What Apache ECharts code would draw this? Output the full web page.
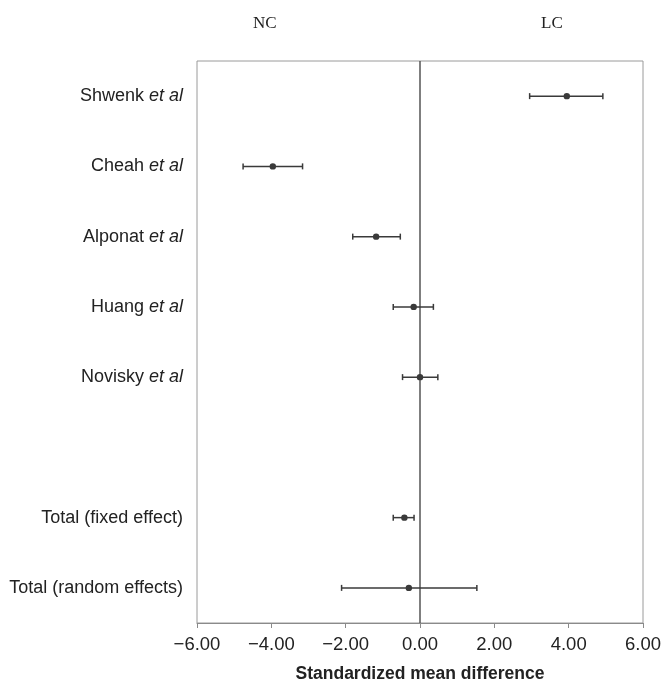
<!DOCTYPE html>
<html><head><meta charset="utf-8">
<script src="https://cdn.jsdelivr.net/npm/echarts@6/dist/echarts.min.js"></script>
<style>html,body{margin:0;padding:0;background:#fff}#c{width:662px;height:683px}</style>
</head><body><div id="c"></div>
<script>
const studies = ['Shwenk', 'Cheah', 'Alponat', 'Huang', 'Novisky', ' ', 'Total (fixed effect)', 'Total (random effects)'];
const etAl = [true, true, true, true, true, false, false, false];
const smd = [3.95, -3.96, -1.18, -0.17, 0.0, null, -0.42, -0.30];
const ciLow = [2.95, -4.76, -1.81, -0.72, -0.47, null, -0.72, -2.11];
const ciHigh = [4.92, -3.16, -0.53, 0.36, 0.48, null, -0.16, 1.53];
const xTicks = [-6, -4, -2, 0, 2, 4, 6];
const sideLabels = ['NC', 'LC'];
const refLine = 0;

const sans = "'Liberation Sans Narrow','Arial Narrow','Liberation Sans',Arial,sans-serif";
const chart = echarts.init(document.getElementById('c'), null, {renderer: 'canvas'});

const data = [];
studies.forEach((s, i) => { if (smd[i] != null) data.push([ciLow[i], ciHigh[i], smd[i], s]); });

chart.setOption({
  animation: false,
  grid: {left: 197, right: 19, top: 61, bottom: 60, show: true, borderColor: '#9a9a9a', borderWidth: 1, outerBoundsMode: 'none', containLabel: false},
  graphic: [
    {type: 'text', left: 253, top: 15, style: {text: sideLabels[0], font: "17px 'Liberation Serif','Times New Roman',serif", fill: '#222'}},
    {type: 'text', left: 541, top: 15, style: {text: sideLabels[1], font: "17px 'Liberation Serif','Times New Roman',serif", fill: '#222'}}
  ],
  xAxis: {
    type: 'value', min: -6, max: 6, interval: 2,
    splitLine: {show: false},
    axisLine: {show: true, lineStyle: {color: '#8a8a8a', width: 1}},
    axisTick: {show: true, length: 5, inside: false, lineStyle: {color: '#8a8a8a'}},
    axisLabel: {
      color: '#222', fontFamily: sans, fontSize: 18.5, margin: 12,
      formatter: v => xTicks.includes(v) ? (v < 0 ? '\u2212' + Math.abs(v).toFixed(2) : v.toFixed(2)) : ''
    },
    name: 'Standardized mean difference', nameLocation: 'middle', nameGap: 42,
    nameTextStyle: {color: '#222', fontFamily: sans, fontSize: 17.5, fontWeight: 'bold'}
  },
  yAxis: {
    type: 'category', data: studies, inverse: true,
    axisLine: {show: false}, axisTick: {show: false}, splitLine: {show: false},
    axisLabel: {
      margin: 14, color: '#222', fontFamily: sans, fontSize: 18,
      formatter: (v, i) => v.trim() === '' ? '' : (etAl[i] ? v + ' {i|et al}' : v),
      rich: {i: {fontStyle: 'italic', fontFamily: sans, fontSize: 18, color: '#222'}}
    }
  },
  series: [{
    type: 'custom',
    data: [[refLine, studies[0]]],
    encode: {x: 0, y: 1},
    renderItem: (params, api) => {
      const cs = params.coordSys;
      const x = api.coord([api.value(0), studies[0]])[0];
      return {type: 'line', shape: {x1: x, y1: cs.y, x2: x, y2: cs.y + cs.height}, style: {stroke: '#555', lineWidth: 1.5}};
    },
    z: 2, silent: true
  }, {
    type: 'custom',
    dimensions: ['lo', 'hi', 'mid', {name: 'row', type: 'ordinal'}],
    data: data,
    encode: {x: [0, 1, 2], y: 3},
    renderItem: (params, api) => {
      const y = api.value(3);
      const lo = api.coord([api.value(0), y]);
      const hi = api.coord([api.value(1), y]);
      const mid = api.coord([api.value(2), y]);
      const cap = 3;
      const st = {stroke: '#3a3a3a', lineWidth: 1.5};
      return {type: 'group', children: [
        {type: 'line', shape: {x1: lo[0], y1: lo[1], x2: hi[0], y2: hi[1]}, style: st},
        {type: 'line', shape: {x1: lo[0], y1: lo[1] - cap, x2: lo[0], y2: lo[1] + cap}, style: st},
        {type: 'line', shape: {x1: hi[0], y1: hi[1] - cap, x2: hi[0], y2: hi[1] + cap}, style: st},
        {type: 'circle', shape: {cx: mid[0], cy: mid[1], r: 3.2}, style: {fill: '#3a3a3a'}}
      ]};
    },
    z: 3
  }]
});
</script></body></html>
